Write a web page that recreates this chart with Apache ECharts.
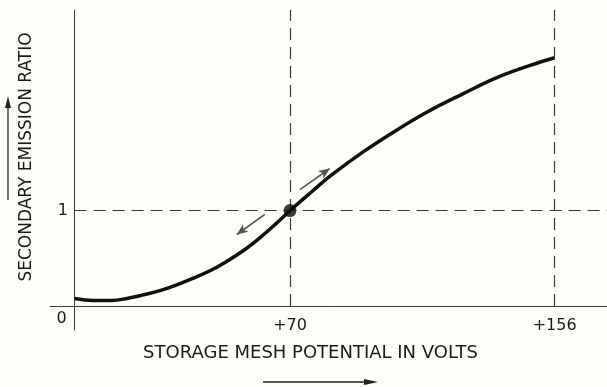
<!DOCTYPE html>
<html>
<head>
<meta charset="utf-8">
<script src="https://cdn.jsdelivr.net/npm/echarts@6/dist/echarts.min.js"></script>
<style>
  html, body { margin: 0; padding: 0; background: #fdfdf9; }
  #chart { width: 607px; height: 387px; }
</style>
</head>
<body>
<div id="chart"></div>
<script>
// storage mesh potential (volts) vs secondary emission ratio
var meshVolts = [0, 6, 12, 17, 22, 28, 33, 38, 44, 49, 55, 60, 65, 70, 77.5, 83, 94, 105, 115, 126, 137, 148, 156];
var emissionRatio = [0.08, 0.06, 0.06, 0.08, 0.115, 0.165, 0.22, 0.285, 0.37, 0.46, 0.585, 0.71, 0.85, 1.0, 1.21, 1.36, 1.62, 1.85, 2.04, 2.22, 2.39, 2.52, 2.6];

var xTicks = [0, 70, 156];
var yTicks = [1];
var crossPoint = [70, 1];
var rightEdge = 173;
var topEdge = 3.1;

var curve = meshVolts.map(function (v, i) { return [v, emissionRatio[i]]; });

var inkColor = '#1a1a1a';
var lineColor = '#3a3a3a';
var fontFamily = '"DejaVu Sans", sans-serif';

var chart = echarts.init(document.getElementById('chart'));

chart.setOption({
  backgroundColor: '#fdfdf9',
  animation: false,
  grid: {
    left: 50,
    right: 0,
    top: 10,
    bottom: 57,
    outerBoundsMode: 'none'
  },
  xAxis: {
    type: 'value',
    min: -8,
    max: rightEdge,
    name: 'STORAGE MESH POTENTIAL IN VOLTS',
    nameLocation: 'middle',
    nameGap: 14,
    nameTextStyle: {
      fontFamily: fontFamily,
      fontSize: 18,
      color: inkColor,
      padding: [0, 36, 0, 0]
    },
    axisLine: { show: true, onZero: true, lineStyle: { color: lineColor, width: 1 } },
    axisTick: { show: false },
    splitLine: { show: false },
    axisLabel: {
      // labels sit against the grid edge, so pull them up to the zero line
      customValues: xTicks,
      margin: -19,
      fontFamily: fontFamily,
      fontSize: 16,
      color: inkColor,
      formatter: function (v) {
        return v === 0 ? '{z|0}' : '{p|+' + v + '}';
      },
      rich: {
        z: { fontFamily: fontFamily, fontSize: 16, color: inkColor, padding: [0, 26, 0, 0] },
        p: { fontFamily: fontFamily, fontSize: 16, color: inkColor, padding: [7, 0, 0, 0] }
      }
    }
  },
  yAxis: {
    type: 'value',
    min: -0.25,
    max: topEdge,
    name: 'SECONDARY EMISSION RATIO',
    nameLocation: 'middle',
    nameRotate: 90,
    nameGap: 15,
    nameTextStyle: {
      fontFamily: fontFamily,
      fontSize: 17,
      color: inkColor,
      padding: [0, 0, 0, 26]
    },
    axisLine: { show: true, onZero: true, lineStyle: { color: lineColor, width: 1 } },
    axisTick: { show: false },
    splitLine: { show: false },
    axisLabel: {
      customValues: yTicks,
      margin: -18,
      fontFamily: fontFamily,
      fontSize: 16,
      color: inkColor
    }
  },
  series: [
    {
      type: 'line',
      data: curve,
      smooth: 0.4,
      showSymbol: false,
      lineStyle: { color: '#111', width: 3.5 },
      markLine: {
        silent: true,
        symbol: ['none', 'none'],
        label: { show: false },
        lineStyle: { color: lineColor, width: 1.2, type: [12, 7] },
        data: [
          [{ coord: [crossPoint[0], 0] }, { coord: [crossPoint[0], topEdge] }],
          [{ coord: [156, 0] }, { coord: [156, topEdge] }],
          [{ coord: [0, crossPoint[1]] }, { coord: [rightEdge, crossPoint[1]] }]
        ]
      }
    },
    {
      // small direction arrows beside the cross-over point
      type: 'line',
      data: [],
      markLine: {
        silent: true,
        symbol: ['none', 'arrow'],
        symbolSize: [7, 11],
        label: { show: false },
        lineStyle: { color: '#555', width: 1.6, type: 'solid' },
        data: [
          [{ coord: [73.2, 1.22] }, { coord: [82.9, 1.44] }],
          [{ coord: [61.8, 0.96] }, { coord: [52.7, 0.75] }]
        ]
      }
    },
    {
      type: 'scatter',
      data: [crossPoint],
      symbolSize: 13,
      itemStyle: { color: '#0d0d0d' },
      z: 5
    }
  ],
  graphic: [
    // "increasing" arrow beside the vertical title
    { type: 'line', shape: { x1: 8, y1: 200, x2: 8, y2: 104 }, style: { stroke: '#222', lineWidth: 1.3 } },
    { type: 'polygon', shape: { points: [[8, 96], [5, 108], [11, 108]] }, style: { fill: '#222' } },
    // "increasing" arrow under the horizontal title
    { type: 'line', shape: { x1: 263, y1: 382, x2: 366, y2: 382 }, style: { stroke: '#222', lineWidth: 1.3 } },
    { type: 'polygon', shape: { points: [[378, 382], [364, 379], [364, 385]] }, style: { fill: '#222' } }
  ]
});
</script>
</body>
</html>
